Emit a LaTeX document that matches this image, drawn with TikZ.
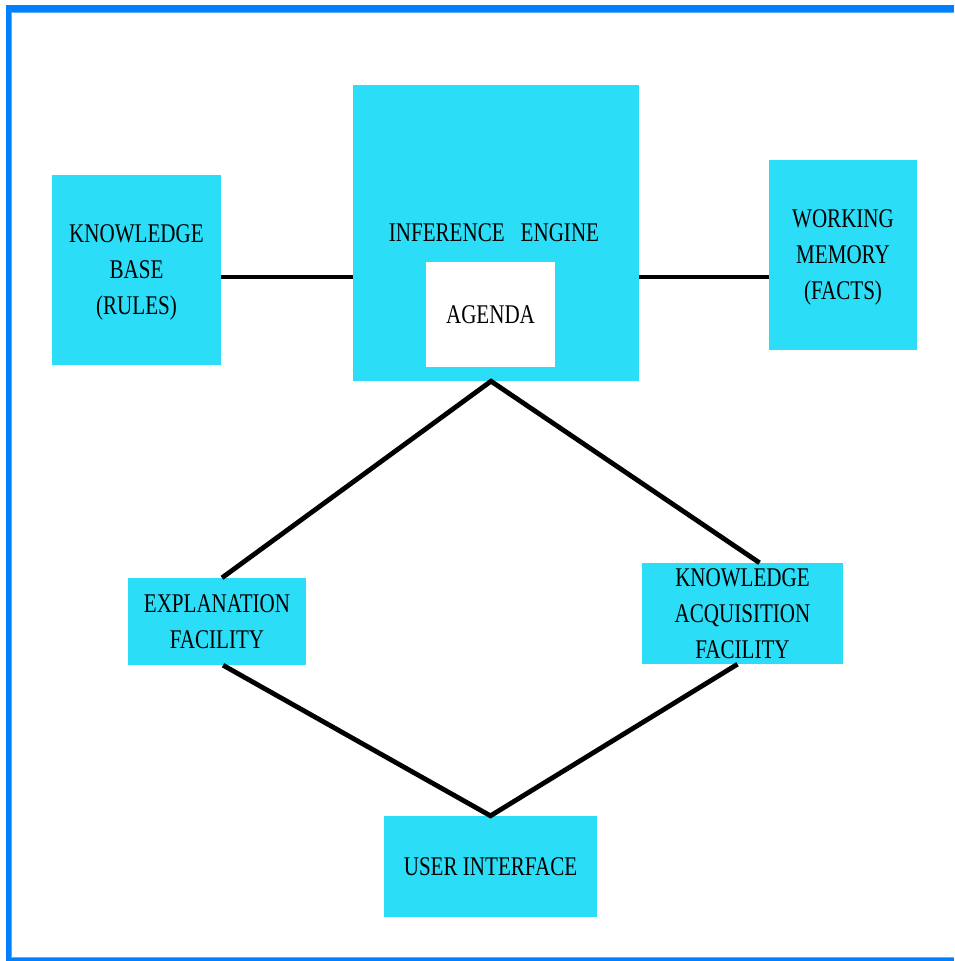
\documentclass[tikz,border=0pt]{standalone}
\usepackage{fontspec}
\setmainfont[FakeStretch=0.78]{Liberation Serif}
\definecolor{boxcyan}{RGB}{43,221,247}
\definecolor{frameblue}{RGB}{0,128,255}
\definecolor{framelight}{RGB}{90,170,255}
% last line without descender depth, so the block stays centred on the caps
\newcommand{\nodepth}[1]{\raisebox{0pt}[\height][0pt]{#1}}
\begin{document}
\begin{tikzpicture}[x=1pt,y=-1pt,
  block/.style={fill=boxcyan, draw=none, inner sep=0pt, align=center,
    font=\fontsize{27}{36}\selectfont},
  link/.style={line width=4.8pt, black, line join=miter}]
  % canvas and outer frame
  \fill[white] (0,0) rectangle (954,961);
  \useasboundingbox (0,0) rectangle (954,961);
  \fill[frameblue] (6,5) rectangle (954,12);
  \fill[frameblue] (6,5) rectangle (11,961);
  \fill[frameblue] (6,958) rectangle (954,961);
  \draw[framelight, line width=1pt] (954,12.5) -- (11.5,12.5) -- (11.5,957.5) -- (954,957.5);

  % components
  \node[block, minimum width=169pt, minimum height=190pt] (kb) at (136.5,270)
    {KNOWLEDGE\\BASE\\\nodepth{(RULES)}};
  \node[block, minimum width=286pt, minimum height=296pt] (ie) at (496,233) {};
  \node[font=\fontsize{27}{36}\selectfont, inner sep=0pt] (ielabel) at (494,233)
    {INFERENCE\hspace{16pt}ENGINE};
  \node[fill=white, minimum width=129pt, minimum height=105pt, inner sep=0pt,
    font=\fontsize{27}{36}\selectfont] (agenda) at (490.5,314.5) {AGENDA};
  \node[block, minimum width=148pt, minimum height=190pt] (wm) at (843,255)
    {WORKING\\MEMORY\\\nodepth{(FACTS)}};
  \node[block, minimum width=178pt, minimum height=87pt] (ex) at (217,621.5)
    {EXPLANATION\\FACILITY};
  \node[block, minimum width=201pt, minimum height=101pt] (ka) at (742.5,613.5)
    {KNOWLEDGE\\ACQUISITION\\FACILITY};
  \node[block, minimum width=213pt, minimum height=101pt] (ui) at (490.5,866.5)
    {USER INTERFACE};

  % connectors
  \draw[link] ([yshift=-7pt]kb.east) -- ([yshift=-7pt]kb.east -| ie.west);
  \draw[link] ([yshift=-44pt]ie.east) -- ([yshift=-44pt]ie.east -| wm.west);
  \draw[link] ([xshift=5pt]ex.north) -- ([xshift=-5pt]ie.south) -- ([xshift=17pt]ka.north);
  \draw[link] ([xshift=6pt]ex.south) -- (ui.north) -- ([xshift=-5pt]ka.south);
\end{tikzpicture}
\end{document}
